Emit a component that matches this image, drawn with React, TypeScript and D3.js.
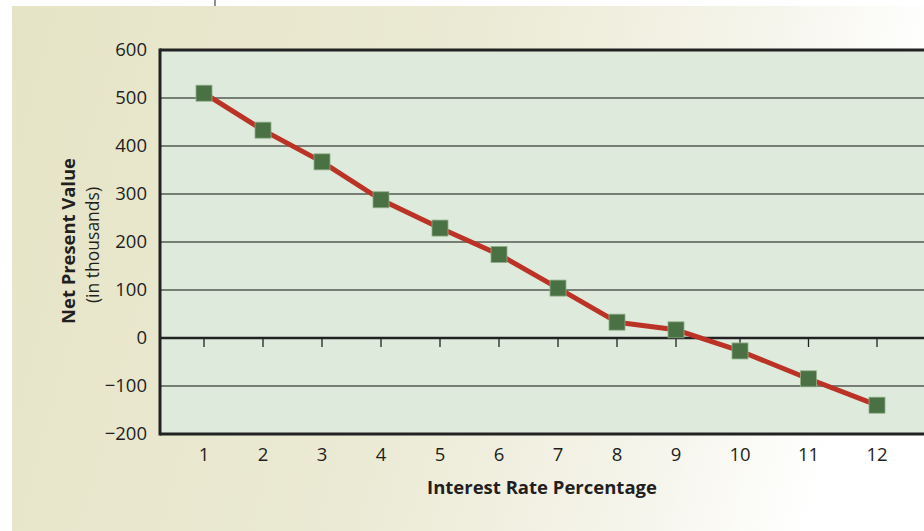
import React from "react";
import * as d3 from "d3";

const rates = [1, 2, 3, 4, 5, 6, 7, 8, 9, 10, 11, 12];
const npv = [510, 433, 367, 288, 229, 174, 104, 33, 17, -27, -85, -140];
const yTicks = [600, 500, 400, 300, 200, 100, 0, -100, -200];
const xTitle = "Interest Rate Percentage";
const yTitle = "Net Present Value";
const ySub = "(in thousands)";

const W = 924;
const H = 531;
const plotLeft = 160;
const plotTop = 50;
const plotBottom = 434;
const plotRight = 940;

export default function App() {
  const y = d3.scaleLinear().domain([-200, 600]).range([plotBottom, plotTop]);
  const x = d3.scaleLinear().domain([1, 9, 10, 12]).range([204, 676, 740, 877]);
  const line = d3
    .line<number>()
    .x((_, i) => x(rates[i]))
    .y((d) => y(d));
  const fmt = (v: number) => (v < 0 ? "\u2212" + Math.abs(v) : String(v));
  const font = "'Open Sans', 'Noto Sans', sans-serif";
  const ms = 16;

  return (
    <svg
      width={W}
      height={H}
      style={{ position: "absolute", left: 0, top: 0 }}
      fontFamily={font}
    >
      <defs>
        <linearGradient id="bg" x1="0" y1="0" x2="1" y2="0.15">
          <stop offset="0" stopColor="#e6e4c6" />
          <stop offset="0.5" stopColor="#ebead4" />
          <stop offset="0.8" stopColor="#f5f4ea" />
          <stop offset="1" stopColor="#ffffff" />
        </linearGradient>
      </defs>
      <rect x={0} y={0} width={W} height={H} fill="#ffffff" />
      <rect x={12} y={6} width={W - 12} height={H - 6} fill="url(#bg)" />
      <line x1={215} x2={215} y1={0} y2={6} stroke="#222" strokeWidth={1} />

      <rect
        x={plotLeft}
        y={plotTop}
        width={plotRight - plotLeft}
        height={plotBottom - plotTop}
        fill="#ddeadc"
      />
      {yTicks
        .filter((t) => t !== 0 && t !== 600 && t !== -200)
        .map((t) => (
          <line
            key={"g" + t}
            x1={plotLeft}
            x2={plotRight}
            y1={y(t)}
            y2={y(t)}
            stroke="#555a55"
            strokeWidth={1.6}
          />
        ))}
      <line x1={plotLeft} x2={plotRight} y1={plotTop} y2={plotTop} stroke="#222" strokeWidth={3} />
      <line x1={plotLeft} x2={plotRight} y1={plotBottom} y2={plotBottom} stroke="#222" strokeWidth={3} />
      <line x1={plotLeft} x2={plotLeft} y1={plotTop - 1.5} y2={plotBottom + 1.5} stroke="#222" strokeWidth={3} />
      <line x1={plotLeft} x2={plotRight} y1={y(0)} y2={y(0)} stroke="#222" strokeWidth={2.6} />
      {rates.map((r) => (
        <line
          key={"t" + r}
          x1={x(r)}
          x2={x(r)}
          y1={y(0)}
          y2={y(0) + 9}
          stroke="#222"
          strokeWidth={1.3}
        />
      ))}

      {yTicks.map((t) => (
        <text
          key={"yl" + t}
          x={147}
          y={y(t)}
          dy="0.35em"
          textAnchor="end"
          fontSize={18.5}
          fill="#231f20"
        >
          {fmt(t)}
        </text>
      ))}
      {rates.map((r) => (
        <text
          key={"xl" + r}
          x={x(r)}
          y={455}
          dy="0.35em"
          textAnchor="middle"
          fontSize={18.5}
          fill="#231f20"
        >
          {r}
        </text>
      ))}

      <path d={line(npv) || ""} fill="none" stroke="#bb3226" strokeWidth={5} strokeLinejoin="round" />
      {npv.map((v, i) => (
        <rect
          key={"m" + i}
          x={x(rates[i]) - ms / 2}
          y={y(v) - ms / 2}
          width={ms}
          height={ms}
          fill="#4a7143"
          stroke="#8fae88"
          strokeWidth={0.8}
        />
      ))}

      <text
        x={542}
        y={488}
        dy="0.35em"
        textAnchor="middle"
        fontSize={18.5}
        fontWeight="bold"
        fill="#231f20"
      >
        {xTitle}
      </text>
      <text
        transform={`translate(69,241) rotate(-90)`}
        dy="0.35em"
        textAnchor="middle"
        fontSize={18.4}
        fontWeight="bold"
        fill="#231f20"
      >
        {yTitle}
      </text>
      <text
        transform={`translate(93,245) rotate(-90)`}
        dy="0.35em"
        textAnchor="middle"
        fontSize={17.5}
        fill="#231f20"
      >
        {ySub}
      </text>
    </svg>
  );
}
